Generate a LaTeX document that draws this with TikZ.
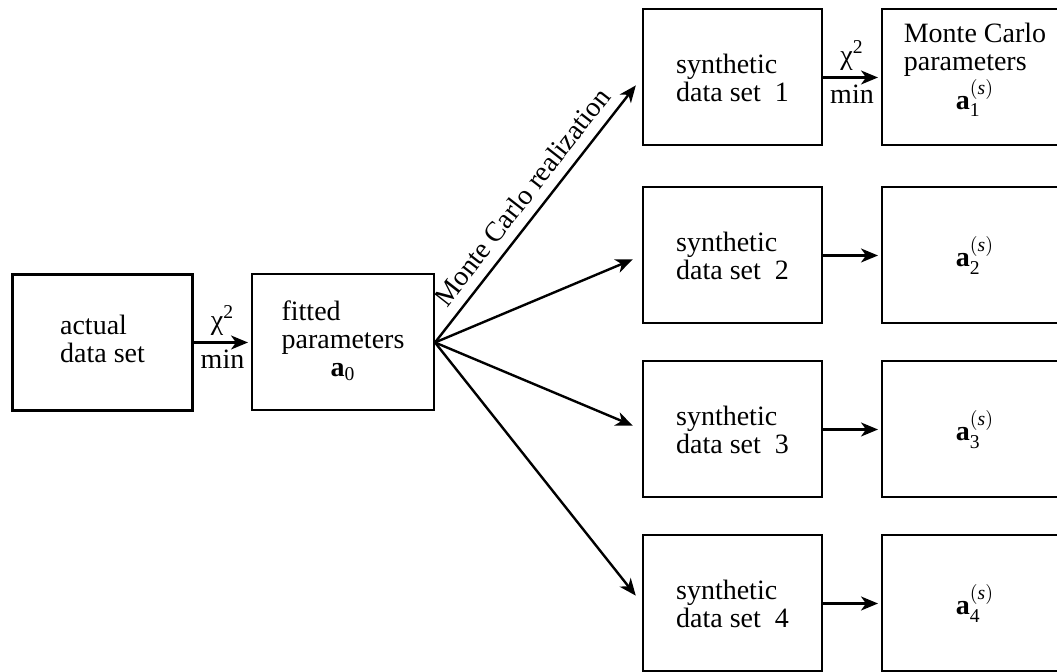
\documentclass[tikz,border=0pt]{standalone}
\usepackage{amsmath}
\usepackage{fontspec}
\setmainfont{Liberation Serif}
\usepackage{tikz}
\usetikzlibrary{arrows.meta, positioning}
\newcommand{\boxfont}{\fontsize{14}{14}\selectfont}
\newcommand{\chisq}{χ\textsuperscript{2}}
\newcommand{\mcpar}[1]{\textbf{a}$^{(\textit{s})}_{\textrm{#1}}$}
\tikzset{
  dbox/.style={draw, line width=1pt, minimum width=90pt, minimum height=68pt,
               inner sep=0pt, font=\boxfont},
  abox/.style={dbox, line width=1.5pt},
  sbox/.style={dbox, minimum width=89.5pt, align=left},
  mbox/.style={dbox, minimum width=93pt},
  arr/.style={-{Stealth[length=8.5pt,width=7pt,inset=2.5pt]}, line width=1.2pt,
              shorten >=1.5pt},
  fan/.style={arr, shorten >=5pt},
  chilab/.style={font=\boxfont, inner sep=3pt},
}

\begin{document}
\begin{tikzpicture}[x=0.5pt, y=-0.5pt]
  \useasboundingbox (0,0) rectangle (1057,672);
  \clip (0,0) rectangle (1057,672);

  %% Fit of the actual data
  \node[abox] (actual) at (102.5, 342.5) {\begin{tabular}{@{}l@{}}actual\\data set\end{tabular}};
  \node[dbox, minimum width=91pt] (fitted) at (343, 342.5)
    {\begin{tabular}{@{}l@{}}fitted\\parameters\\\multicolumn{1}{@{}c@{}}{\textbf{a}$_{\textrm{0}}$}\end{tabular}};
  \draw[arr] (actual) -- node[chilab, above] (chi0) {\chisq} node[chilab, below] (min0) {min} (fitted);

  %% Synthetic data sets
  \node[sbox] (s1) at (732.5, 77.5) {synthetic\\data set~~1};
  \node[sbox] (s2) at (732.5, 255.5) {synthetic\\data set~~2};
  \node[sbox] (s3) at (732.5, 429.5) {synthetic\\data set~~3};
  \node[sbox] (s4) at (732.5, 603.5) {synthetic\\data set~~4};

  %% Monte Carlo parameters
  \node[mbox] (p1) at (975, 77.5)
    {\begin{tabular}{@{}l@{}}Monte Carlo\\parameters\\\multicolumn{1}{@{}c@{}}{\mcpar{1}}\end{tabular}\rule[-27pt]{0pt}{0pt}};
  \node[mbox] (p2) at (975, 255.5) {\mcpar{2}};
  \node[mbox] (p3) at (975, 429.5) {\mcpar{3}};
  \node[mbox] (p4) at (975, 603.5) {\mcpar{4}};

  %% Monte Carlo realization
  \draw[fan] (fitted.east) -- node[sloped, above, font=\boxfont, inner sep=5pt] (mcr) {Monte Carlo realization} (s1.west);
  \draw[fan] (fitted.east) -- (s2.west);
  \draw[fan] (fitted.east) -- (s3.west);
  \draw[fan] (fitted.east) -- (s4.west);

  %% Fits of the synthetic sets
  \draw[arr] (s1) -- node[chilab, above] (chi1) {\chisq} node[chilab, below] (min1) {min} (p1);
  \draw[arr] (s2) -- (p2);
  \draw[arr] (s3) -- (p3);
  \draw[arr] (s4) -- (p4);

\end{tikzpicture}
\end{document}
